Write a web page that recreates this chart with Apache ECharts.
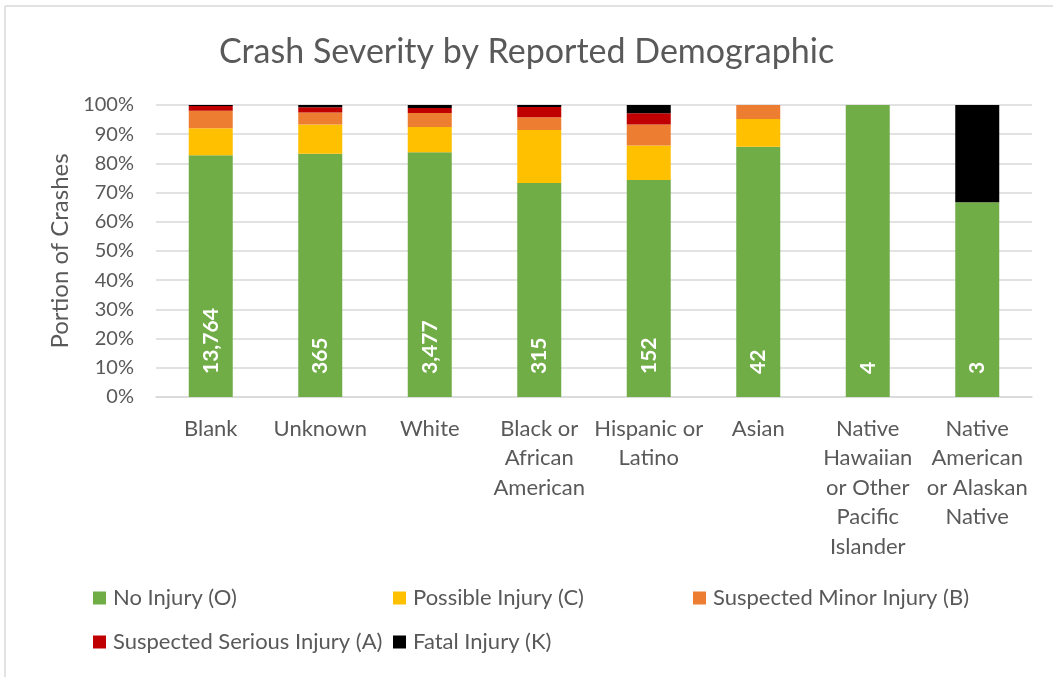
<!DOCTYPE html>
<html>
<head>
<meta charset="utf-8">
<script src="https://cdn.jsdelivr.net/npm/echarts@6/dist/echarts.min.js"></script>
<style>
html,body{margin:0;padding:0;background:#fff;}
#chart{width:1053px;height:677px;}
</style>
</head>
<body>
<div id="chart"></div>
<script>
const categories = ["Blank", "Unknown", "White", "Black or\nAfrican\nAmerican", "Hispanic or\nLatino", "Asian", "Native\nHawaiian\nor Other\nPacific\nIslander", "Native\nAmerican\nor Alaskan\nNative"];
const counts = [13764, 365, 3477, 315, 152, 42, 4, 3];
const noInjury       = [82.8, 83.3, 83.8, 73.3, 74.3, 85.7, 100, 66.7];
const possibleInjury = [9.2, 10.0, 8.7, 18.1, 11.8, 9.5, 0, 0];
const minorInjury    = [6.0, 4.1, 4.8, 4.4, 7.2, 4.8, 0, 0];
const seriousInjury  = [1.7, 1.8, 1.7, 3.5, 3.9, 0, 0, 0];
const fatalInjury    = [0.3, 0.8, 1.0, 0.7, 2.8, 0, 0, 33.3];
const yTicks = [0, 10, 20, 30, 40, 50, 60, 70, 80, 90, 100];

const seriesNames = ["No Injury (O)", "Possible Injury (C)", "Suspected Minor Injury (B)", "Suspected Serious Injury (A)", "Fatal Injury (K)"];
const seriesData = [noInjury, possibleInjury, minorInjury, seriousInjury, fatalInjury];
const colors = ["#70AD47", "#FFC000", "#ED7D31", "#C00000", "#000000"];

const FONT = "Lato, 'Open Sans', sans-serif";
const TXT = "#595959";

const chart = echarts.init(document.getElementById('chart'), null, {renderer: 'canvas'});

const legendPos = [[93, 587], [393, 587], [693, 587], [93, 631], [393, 631]];

const option = {
  animation: false,
  backgroundColor: '#fff',
  color: colors,
  title: {
    text: 'Crash Severity by Reported Demographic',
    left: 'center',
    top: 30,
    textStyle: {fontFamily: FONT, fontSize: 34, fontWeight: 'normal', color: TXT}
  },
  graphic: [
    {type: 'line', shape: {x1: 5, y1: 6, x2: 1053, y2: 6}, style: {stroke: '#D9D9D9', lineWidth: 1.5}},
    {type: 'line', shape: {x1: 5, y1: 6, x2: 5, y2: 677}, style: {stroke: '#D9D9D9', lineWidth: 1.5}}
  ],
  legend: seriesNames.map((n, i) => ({
    data: [n],
    left: legendPos[i][0],
    top: legendPos[i][1],
    itemWidth: 13,
    itemHeight: 13,
    itemGap: 0,
    icon: 'rect',
    padding: 0,
    textStyle: {fontFamily: FONT, fontSize: 22, color: TXT, padding: [0, 0, 0, 2]}
  })),
  grid: {left: 156, right: 21, top: 105, bottom: 280, containLabel: false},
  xAxis: {
    type: 'category',
    data: categories,
    axisLine: {lineStyle: {color: '#D9D9D9', width: 1.5}},
    axisTick: {show: false},
    axisLabel: {fontFamily: FONT, fontSize: 22, color: TXT, lineHeight: 29.5, margin: 17, interval: 0}
  },
  yAxis: {
    type: 'value',
    min: 0,
    max: 100,
    interval: 10,
    name: 'Portion of Crashes',
    nameLocation: 'middle',
    nameGap: 84,
    nameTextStyle: {fontFamily: FONT, fontSize: 24, color: TXT},
    axisLine: {show: false},
    axisTick: {show: false},
    splitLine: {lineStyle: {color: '#D9D9D9', width: 1.5}},
    axisLabel: {
      fontFamily: FONT, fontSize: 20, color: TXT, margin: 22,
      formatter: v => (yTicks.indexOf(v) >= 0 ? v + '%' : '')
    }
  },
  series: seriesNames.map((n, i) => {
    const s = {
      name: n,
      type: 'bar',
      stack: 'total',
      barWidth: 44,
      data: seriesData[i],
      itemStyle: {color: colors[i]}
    };
    if (i === 0) {
      s.label = {
        show: true,
        position: 'insideBottom',
        rotate: 90,
        align: 'left',
        verticalAlign: 'middle',
        distance: 23,
        fontFamily: FONT,
        fontSize: 21,
        fontWeight: 'bold',
        color: '#fff',
        formatter: p => counts[p.dataIndex].toLocaleString('en-US')
      };
    }
    return s;
  })
};
chart.setOption(option);
</script>
</body>
</html>
